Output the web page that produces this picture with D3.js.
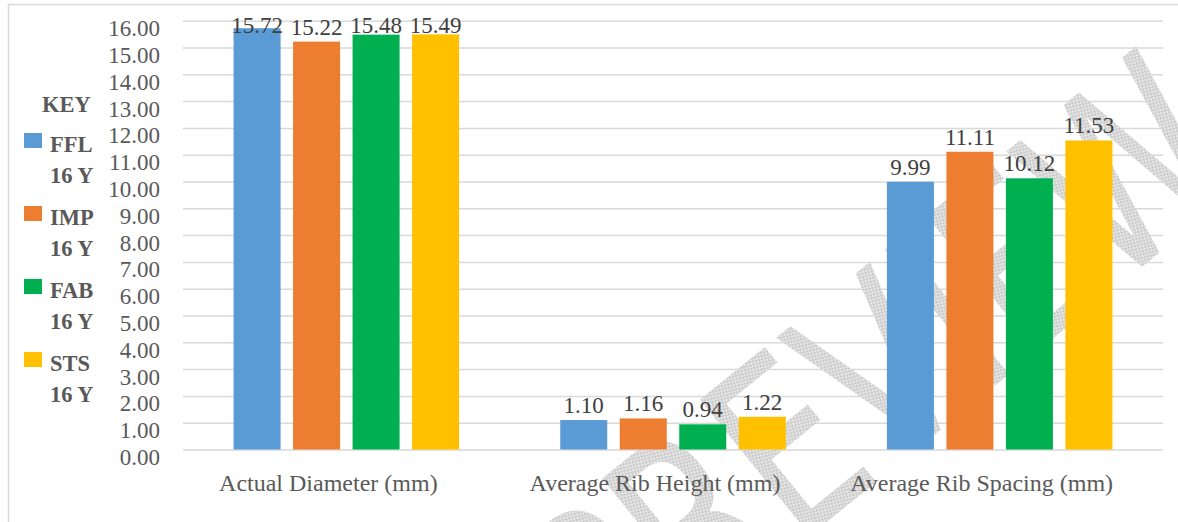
<!DOCTYPE html>
<html>
<head>
<meta charset="utf-8">
<script src="https://cdn.jsdelivr.net/npm/d3@7"></script>
<style>
  html, body { margin: 0; padding: 0; background: #fff; }
  svg { display: block; }
  text { font-family: "Liberation Serif", "Times New Roman", serif; }
</style>
</head>
<body>
<svg id="chart" width="1178" height="522"></svg>
<script>
const categories = ['Actual Diameter (mm)', 'Average Rib Height (mm)', 'Average Rib Spacing (mm)'];
const seriesNames = ['FFL', 'IMP', 'FAB', 'STS'];
const seriesSub = ['16 Y', '16 Y', '16 Y', '16 Y'];
const seriesColors = ['#5b9bd5', '#ed7d31', '#00b050', '#ffc000'];
const ffl = [15.72, 1.10, 9.99];
const imp = [15.22, 1.16, 11.11];
const fab = [15.48, 0.94, 10.12];
const sts = [15.49, 1.22, 11.53];
const yTicks = d3.range(0, 17, 1);

const values = [ffl, imp, fab, sts];

const svg = d3.select('#chart');
const margin = { left: 183, top: 20.7 };
const width = 980, height = 428.8;

// outer chart border
svg.append('rect').attr('x', 8.5).attr('y', 4.5).attr('width', 1200).attr('height', 560)
  .attr('fill', 'none').attr('stroke', '#d9d9d9').attr('stroke-width', 1.5);

const defs = svg.append('defs');
const pat = defs.append('pattern').attr('id', 'hatch').attr('width', 2).attr('height', 2)
  .attr('patternUnits', 'userSpaceOnUse');
pat.append('rect').attr('width', 2).attr('height', 2).attr('fill', '#f3f3f3');
pat.append('rect').attr('width', 1).attr('height', 1).attr('fill', '#bebebe');
pat.append('rect').attr('x', 1).attr('y', 1).attr('width', 1).attr('height', 1).attr('fill', '#bebebe');

const g = svg.append('g').attr('transform', `translate(${margin.left},${margin.top})`);
const gridLayer = g.append('g');
const wmLayer = svg.append('g');
const barLayer = svg.append('g').attr('transform', `translate(${margin.left},${margin.top})`);

const y = d3.scaleLinear().domain([0, 16]).range([height, 0]);
const x0 = d3.scaleBand().domain(categories).range([0, width]);
const x1 = d3.scaleBand().domain(seriesNames).range([0, x0.bandwidth()])
  .paddingInner(0.21).paddingOuter(0.85);

// gridlines
gridLayer.append('g').call(d3.axisLeft(y).tickValues(yTicks).tickSize(-width).tickFormat(''))
  .call(s => s.select('.domain').remove())
  .call(s => s.selectAll('line').attr('stroke', '#d9d9d9').attr('stroke-width', 1.5));

// y tick labels
gridLayer.append('g').call(d3.axisLeft(y).tickValues(yTicks).tickSize(0).tickPadding(23).tickFormat(d3.format('.2f')))
  .call(s => s.select('.domain').remove())
  .call(s => s.selectAll('text').attr('fill', '#595959').style('font-size', '23px')
    .attr('dy', '0.65em').style('font-family', '"Liberation Serif", serif'));

// watermark (sits under the bars)
wmLayer.append('text').text('PREVIEW')
  .attr('transform', 'translate(880,372) rotate(-39)')
  .attr('text-anchor', 'middle').attr('dominant-baseline', 'central')
  .attr('textLength', 820).attr('lengthAdjust', 'spacingAndGlyphs')
  .style('font-family', '"DejaVu Sans", sans-serif').style('font-size', '240px')
  .attr('fill', 'url(#hatch)');

// bars
const groups = barLayer.selectAll('.grp').data(categories).enter().append('g')
  .attr('transform', d => `translate(${x0(d)},0)`);

groups.each(function(cat, ci) {
  const grp = d3.select(this);
  const rows = seriesNames.map((s, si) => ({ s, si, v: values[si][ci] }));
  grp.selectAll('rect').data(rows).enter().append('rect')
    .attr('x', d => x1(d.s)).attr('width', x1.bandwidth())
    .attr('y', d => y(d.v)).attr('height', d => height - y(d.v))
    .attr('fill', d => seriesColors[d.si]);
  grp.selectAll('.lbl').data(rows).enter().append('text')
    .attr('x', d => x1(d.s) + x1.bandwidth() / 2)
    .attr('y', d => Math.max(y(d.v) - 7, 12))
    .attr('text-anchor', 'middle').attr('fill', '#404040').style('font-size', '23px')
    .text(d => d.v.toFixed(2));
});

// category labels
barLayer.append('g').attr('transform', `translate(0,${height})`)
  .call(d3.axisBottom(x0).tickSize(0).tickPadding(24))
  .call(s => s.select('.domain').remove())
  .call(s => s.selectAll('text').attr('fill', '#595959').style('font-size', '24px')
    .attr('dx', -18).style('font-family', '"Liberation Serif", serif'));

// legend
const legend = svg.append('g').style('font-weight', 'bold').attr('fill', '#595959');
legend.append('text').attr('x', 42).attr('y', 112).style('font-size', '22.5px').text('KEY');
seriesNames.forEach((s, i) => {
  const top = 133 + i * 73;
  legend.append('rect').attr('x', 24).attr('y', top).attr('width', 18).attr('height', 15)
    .attr('fill', seriesColors[i]);
  legend.append('text').attr('x', 50).attr('y', top + 19).style('font-size', '22.5px').text(s);
  legend.append('text').attr('x', 50).attr('y', top + 50).style('font-size', '22.5px').text(seriesSub[i]);
});
</script>
</body>
</html>
